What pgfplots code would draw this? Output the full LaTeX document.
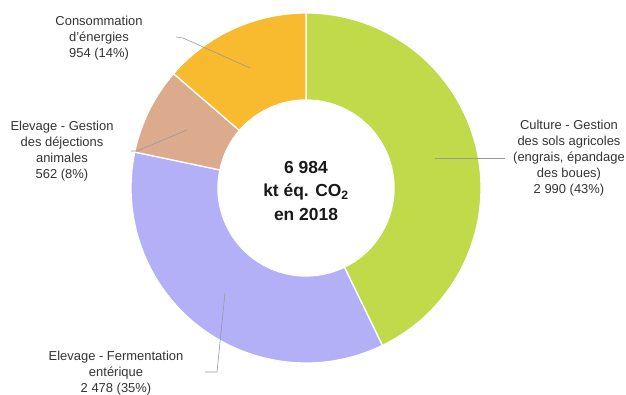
\documentclass[border=0pt]{standalone}
\usepackage{pgfplots}
\pgfplotsset{compat=1.18}
\usepackage{fontspec}
\setmainfont{Liberation Sans}
\definecolor{cgreen}{HTML}{C0DA4A}
\definecolor{cpurple}{HTML}{B3B0F7}
\definecolor{ctan}{HTML}{DCAA8C}
\definecolor{corange}{HTML}{F8BA2E}
\definecolor{ctxt}{HTML}{333333}
\definecolor{cline}{HTML}{9A9A9A}
\begin{document}
\begin{tikzpicture}
% values (kt eq. CO2)
\def\vA{2990}\def\vB{2478}\def\vC{562}\def\vD{954}
\pgfmathsetmacro{\tot}{\vA+\vB+\vC+\vD}
\pgfmathsetmacro{\aA}{90}
\pgfmathsetmacro{\aB}{\aA-360*(\vA/\tot)}
\pgfmathsetmacro{\aC}{\aB-360*(\vB/\tot)}
\pgfmathsetmacro{\aD}{\aC-360*(\vC/\tot)}
\pgfmathsetmacro{\aE}{\aD-360*(\vD/\tot)}
\def\cx{306}\def\cy{207}\def\R{175}\def\r{88}
\begin{axis}[hide axis, scale only axis, width=626bp, height=395bp,
  xmin=0, xmax=626, ymin=0, ymax=395, clip=false]
\path (axis cs:0,0) rectangle (axis cs:626,395);
\newcommand{\ring}[3]{%
  \fill[#3, draw=white, line width=1.3bp]
    (axis cs:{\cx+\R*cos(#1)},{\cy+\R*sin(#1)}) arc[start angle=#1, end angle=#2, radius=\R bp]
    -- (axis cs:{\cx+\r*cos(#2)},{\cy+\r*sin(#2)}) arc[start angle=#2, end angle=#1, radius=\r bp] -- cycle;}
\ring{\aA}{\aB}{cgreen}
\ring{\aB}{\aC}{cpurple}
\ring{\aC}{\aD}{ctan}
\ring{\aD}{\aE}{corange}
% leader lines
\draw[cline, line width=0.6bp] (axis cs:176,358) -- (axis cs:183,357) -- (axis cs:250,327);
\draw[cline, line width=0.6bp] (axis cs:131,244) -- (axis cs:137,244) -- (axis cs:187,265);
\draw[cline, line width=0.6bp] (axis cs:435,237) -- (axis cs:505,237);
\draw[cline, line width=0.6bp] (axis cs:225,102) -- (axis cs:217,23) -- (axis cs:205,23);
% labels
\tikzset{lab/.style={text=ctxt, align=center, font=\fontsize{13}{16}\selectfont, inner sep=0pt}}
\node[lab, anchor=center] at (axis cs:99,357) {Consommation\\d'énergies\\954 (14\%)};
\node[lab, anchor=center] at (axis cs:62,244) {Elevage - Gestion\\des déjections\\animales\\562 (8\%)};
\node[lab, anchor=center] at (axis cs:569,237) {Culture - Gestion\\des sols agricoles\\(engrais, épandage\\des boues)\\2 990 (43\%)};
\node[lab, anchor=center] at (axis cs:116,22) {Elevage - Fermentation\\entérique\\2 478 (35\%)};
\node[text=black!90, align=center, font=\bfseries\fontsize{17.5}{24}\selectfont, inner sep=0pt] at (axis cs:306,204) {6 984\\kt éq. CO\textsubscript{2}\\en 2018};
\end{axis}
\end{tikzpicture}
\end{document}
